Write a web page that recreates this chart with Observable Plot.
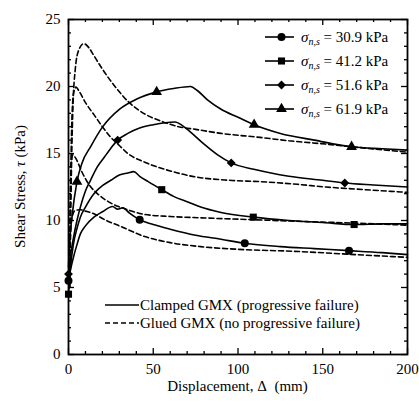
<!DOCTYPE html>
<html>
<head>
<meta charset="utf-8">
<script src="https://cdn.jsdelivr.net/npm/d3@7"></script>
<script src="https://cdn.jsdelivr.net/npm/@observablehq/plot@0.6"></script>
<style>
  html, body { margin: 0; padding: 0; background: #fff; }
  #chart { width: 419px; height: 408px; }
</style>
</head>
<body>
<div id="chart"></div>
<script>
// Normal stress of each test (kPa) and the marker used for it
const stresses = ["30.9", "41.2", "51.6", "61.9"];
const symbolNames = ["circle", "square", "diamond2", "triangle"];

// Clamped GMX (progressive failure): [displacement mm, shear stress kPa]
const clamped309 = [[0,5.5],[1.5,6.5],[3,7.3],[5,8.2],[7,9.0],[10,9.6],[15,10.25],[20,10.65],[26,11.05],[29,10.85],[32,10.95],[36,10.55],[42,10.05],[50,9.7],[60,9.35],[75,8.9],[90,8.6],[104,8.3],[125,8.05],[145,7.9],[165.5,7.75],[185,7.6],[200,7.45]];
const clamped412 = [[0,4.5],[1,6.3],[3,8.3],[5,9.4],[7,10.25],[10,11.0],[15,12.0],[20,12.6],[25,13.0],[30,13.4],[35,13.55],[38.5,13.65],[42,13.3],[47,12.9],[55,12.3],[62,11.8],[70,11.4],[78,11.0],[90,10.6],[109,10.25],[130,10.0],[150,9.85],[168.5,9.7],[185,9.75],[200,9.75]];
const clamped516 = [[0,6.0],[1,7.2],[3,8.75],[5,10.0],[7,11.0],[10,12.2],[13,13.0],[17,14.0],[21,14.7],[25,15.4],[29,16.0],[35,16.5],[42,16.9],[50,17.15],[57,17.3],[63,17.35],[67,17.1],[72,16.6],[80,15.7],[88,14.9],[96,14.3],[110,13.8],[130,13.3],[150,13.0],[163,12.8],[180,12.65],[200,12.5]];
const clamped619 = [[0,6.5],[0.5,8.0],[2,10.2],[5,12.9],[8,14.3],[13,15.5],[20,16.97],[30,18.3],[40,19.05],[52,19.6],[62,19.85],[72,20.0],[76,19.7],[82,19.0],[90,18.3],[100,17.7],[109.5,17.15],[125,16.5],[145,16.0],[167,15.5],[185,15.35],[200,15.25]];

// Glued GMX (no progressive failure)
const glued309 = [[0.4,5],[1,8.5],[2,10.2],[4,10.75],[7,10.8],[10,10.7],[15,10.5],[20,10.15],[25,9.85],[30,9.6],[45,8.8],[60,8.35],[78,8.05],[100,7.85],[133,7.7],[170,7.45],[200,7.25]];
const glued412 = [[0.5,5],[1,11],[1.8,14.5],[2.5,14.9],[4,14.7],[8,13.6],[12,12.7],[18,11.9],[25,11.3],[35,10.8],[45,10.45],[60,10.3],[78,10.2],[100,10.1],[133,9.95],[170,9.8],[200,9.65]];
const glued516 = [[0.6,5],[1.2,12],[2,17.5],[3,19.5],[4.5,19.95],[6,19.7],[10,18.8],[15,17.9],[20,17.0],[25,16.2],[30,15.6],[35,15.0],[45,14.35],[60,13.7],[75,13.25],[95,13.0],[113,12.9],[135,12.7],[152,12.5],[175,12.3],[200,12.1]];
const glued619 = [[0.8,5],[1.5,12],[2.5,18],[4,21.3],[6,22.7],[9,23.2],[12,22.9],[15,22.3],[20,21.3],[25,20.4],[30,19.6],[35,18.9],[45,17.95],[55,17.4],[65,17.0],[75,16.8],[90,16.5],[113,16.2],[130,15.95],[152,15.7],[175,15.4],[200,15.1]];

// Points carrying a marker on each clamped curve
const markers309 = [[0,5.5],[42,10.05],[104,8.3],[165.5,7.75]];
const markers412 = [[0,4.5],[55,12.3],[109,10.25],[168.5,9.7]];
const markers516 = [[0,6.0],[29,16.0],[96,14.3],[163,12.8]];
const markers619 = [[5,12.9],[52,19.6],[109.5,17.15],[167,15.5]];

// Axis ticks
const xMajor = [0, 50, 100, 150, 200];
const yMajor = [0, 5, 10, 15, 20, 25];
const xMinor = d3.range(0, 201, 10).filter(v => v % 50 !== 0);
const yMinor = d3.range(0, 26, 1).filter(v => v % 5 !== 0);

const serif = "'Liberation Serif', 'Times New Roman', Times, serif";

const toRows = (arr, series) => arr.map(([x, y]) => ({x, y, series}));
const clampedRows = [clamped309, clamped412, clamped516, clamped619].flatMap((a, i) => toRows(a, stresses[i]));
const gluedRows = [glued309, glued412, glued516, glued619].flatMap((a, i) => toRows(a, stresses[i]));
const markerRows = [markers309, markers412, markers516, markers619]
  .flatMap((a, i) => a.map(([x, y]) => ({x, y, symbol: symbolNames[i]})));

const d3Symbols = {circle: d3.symbolCircle, square: d3.symbolSquare, diamond2: d3.symbolDiamond2, triangle: d3.symbolTriangle};
const markerR = 4;

// Axis titles and the two legends, laid out in pixels relative to the frame
function annotations(index, scales, values, dims) {
  const {width, height, marginLeft, marginRight, marginTop, marginBottom} = dims;
  const right = width - marginRight;
  const bottom = height - marginBottom;
  const g = d3.create("svg:g").attr("font-family", serif).attr("fill", "black")
    .attr("text-anchor", "start");

  // y title
  const yt = g.append("text")
    .attr("transform", `translate(25,${(marginTop + bottom) / 2}) rotate(-90)`)
    .attr("text-anchor", "middle").attr("font-size", 15);
  yt.append("tspan").text("Shear Stress, ");
  yt.append("tspan").attr("font-style", "italic").text("τ");
  yt.append("tspan").text(" (kPa)");

  // x title
  g.append("text")
    .attr("x", (marginLeft + right) / 2).attr("y", bottom + 37)
    .attr("text-anchor", "middle").attr("font-size", 15)
    .style("white-space", "pre")
    .text("Displacement, Δ\u00a0 (mm)");

  // normal stress legend
  stresses.forEach((s, i) => {
    const y = marginTop + 18 + i * 24;
    g.append("line").attr("x1", right - 142).attr("x2", right - 113)
      .attr("y1", y).attr("y2", y).attr("stroke", "black").attr("stroke-width", 1.6);
    g.append("path")
      .attr("d", d3.symbol(d3Symbols[symbolNames[i]], Math.PI * markerR * markerR)())
      .attr("transform", `translate(${right - 125.5},${y})`);
    const t = g.append("text").attr("x", right - 106).attr("y", y + 5).attr("font-size", 15);
    t.append("tspan").attr("font-style", "italic").text("σ");
    t.append("tspan").attr("font-style", "italic").attr("font-size", 10).attr("dy", 3).text("n,s");
    t.append("tspan").attr("dy", -3).text(` = ${s} kPa`);
  });

  // line style legend
  const styles = [
    {label: "Clamped GMX (progressive failure)", dash: null},
    {label: "Glued GMX (no progressive failure)", dash: "5,3"}
  ];
  styles.forEach((d, i) => {
    const y = bottom - 49 + i * 18;
    g.append("line").attr("x1", marginLeft + 37).attr("x2", marginLeft + 71)
      .attr("y1", y).attr("y2", y).attr("stroke", "black").attr("stroke-width", 1.5)
      .attr("stroke-dasharray", d.dash);
    g.append("text").attr("x", marginLeft + 72).attr("y", y + 5)
      .attr("font-size", 15).text(d.label);
  });
  return g.node();
}

const chart = Plot.plot({
  width: 419,
  height: 408,
  marginLeft: 68,
  marginRight: 12,
  marginTop: 19,
  marginBottom: 54,
  style: {fontFamily: serif, fontSize: "15px", color: "black", background: "white"},
  x: {domain: [0, 200]},
  y: {domain: [0, 25]},
  marks: [
    Plot.axisX({ticks: xMajor, tickSize: 0, tickPadding: 9, label: null}),
    Plot.axisY({ticks: yMajor, tickSize: 0, tickPadding: 8, label: null}),
    // inward tick marks on all four sides
    Plot.ruleX(xMajor, {x: d => d, y1: 0, y2: 0, insetBottom: 6, strokeWidth: 1.3}),
    Plot.ruleX(xMinor, {x: d => d, y1: 0, y2: 0, insetBottom: 3, strokeWidth: 1.3}),
    Plot.ruleX(xMajor, {x: d => d, y1: 25, y2: 25, insetTop: 6, strokeWidth: 1.3}),
    Plot.ruleX(xMinor, {x: d => d, y1: 25, y2: 25, insetTop: 3, strokeWidth: 1.3}),
    Plot.ruleY(yMajor, {y: d => d, x1: 0, x2: 0, insetLeft: 6, strokeWidth: 1.3}),
    Plot.ruleY(yMinor, {y: d => d, x1: 0, x2: 0, insetLeft: 3, strokeWidth: 1.3}),
    Plot.ruleY(yMajor, {y: d => d, x1: 200, x2: 200, insetRight: 6, strokeWidth: 1.3}),
    Plot.ruleY(yMinor, {y: d => d, x1: 200, x2: 200, insetRight: 3, strokeWidth: 1.3}),
    Plot.line(gluedRows, {x: "x", y: "y", z: "series", stroke: "black", strokeWidth: 1.6,
      strokeDasharray: "5,3", curve: "monotone-x"}),
    Plot.line(clampedRows, {x: "x", y: "y", z: "series", stroke: "black", strokeWidth: 1.6,
      curve: "monotone-x"}),
    Plot.dot(markerRows, {x: "x", y: "y", symbol: "symbol", r: markerR, fill: "black", stroke: null}),
    Plot.frame({stroke: "black", strokeWidth: 1.8}),
    annotations
  ]
});

document.getElementById("chart").appendChild(chart);
</script>
</body>
</html>
